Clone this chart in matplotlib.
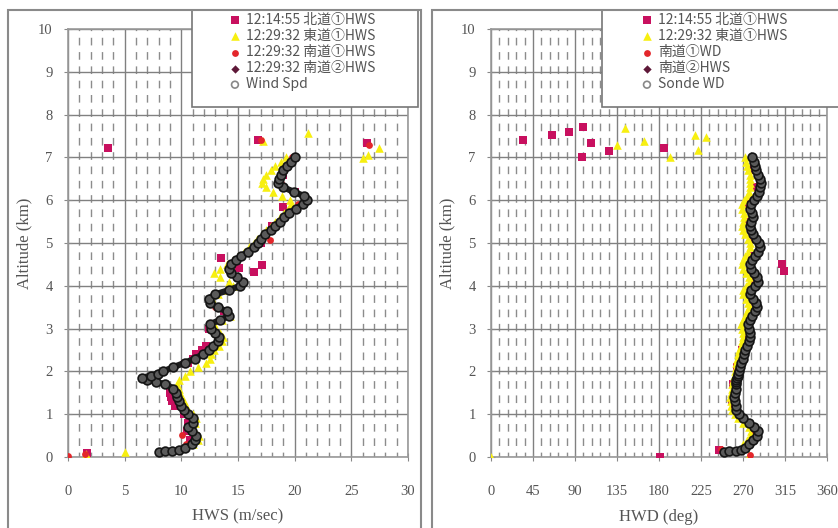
import matplotlib.pyplot as plt
from matplotlib.patches import Rectangle
from matplotlib.ticker import MultipleLocator
import numpy as np

# ---- datos: sonda (altitud km) ----
sonde_alt = [0.12, 0.13, 0.14, 0.16, 0.2, 0.3, 0.4, 0.5, 0.6, 0.7, 0.8, 0.9, 1.0, 1.1, 1.2, 1.3,
             1.4, 1.5, 1.6, 1.7, 1.75, 1.8, 1.85, 1.9, 1.95, 2.0, 2.1, 2.2, 2.3, 2.4, 2.5, 2.6,
             2.7, 2.8, 2.9, 3.0, 3.1, 3.2, 3.3, 3.4, 3.5, 3.6, 3.7, 3.8, 3.9, 4.0, 4.1, 4.2,
             4.3, 4.4, 4.5, 4.6, 4.7, 4.8, 4.9, 5.0, 5.1, 5.2, 5.3, 5.4, 5.5, 5.6, 5.7, 5.8,
             5.9, 6.0, 6.1, 6.2, 6.3, 6.4, 6.5, 6.6, 6.7, 6.8, 6.9, 7.0]
sonde_ws = [8.0, 8.6, 9.2, 9.8, 10.3, 10.9, 11.2, 11.3, 10.9, 10.6, 11.0, 11.0, 10.6, 10.2, 10.0, 9.8,
            9.6, 9.5, 9.3, 8.6, 7.8, 7.0, 6.5, 7.3, 7.9, 8.4, 9.3, 10.3, 11.2, 11.9, 12.4, 12.8,
            13.2, 13.3, 13.0, 12.6, 12.5, 13.4, 14.2, 14.0, 13.2, 12.5, 12.4, 13.0, 14.2, 15.2, 15.4, 14.9,
            14.4, 14.2, 14.4, 14.8, 15.3, 15.9, 16.4, 16.8, 17.0, 17.4, 17.9, 18.3, 18.7, 19.1, 19.5, 20.1,
            20.7, 21.1, 20.8, 19.9, 19.0, 18.5, 18.6, 18.8, 19.0, 19.3, 19.7, 20.0]
sonde_wd = [250, 255, 262, 268, 272, 276, 281, 285, 286, 282, 276, 270, 266, 263, 262, 261,
            260, 261, 262, 262, 263, 263, 264, 265, 265, 266, 267, 268, 270, 271, 272, 274,
            276, 277, 277, 276, 275, 277, 280, 283, 285, 284, 281, 278, 279, 283, 286, 285,
            282, 279, 278, 280, 283, 286, 288, 287, 284, 281, 279, 278, 279, 281, 280, 278,
            279, 282, 285, 287, 288, 289, 288, 286, 284, 283, 282, 280]

# ---- lidar 東道① (amarillo) ----
east_alt = [0.3, 0.4, 0.5, 0.6, 0.7, 0.8, 0.9, 1.0, 1.1, 1.2, 1.3, 1.4, 1.5, 1.6, 1.7, 1.8, 1.9,
            2.0, 2.1, 2.2, 2.3, 2.4, 2.5, 2.6, 2.7, 2.8, 2.9, 3.0, 3.1, 3.2, 3.3, 3.4, 3.5, 3.6,
            3.7, 3.8, 3.9, 4.0, 4.1, 4.2, 4.3, 4.4, 4.5, 4.6, 4.7, 4.8, 4.9, 5.0, 5.1, 5.2, 5.3,
            5.4, 5.5, 5.6, 5.7, 5.8, 5.9, 6.0, 6.1, 6.2, 6.3, 6.4, 6.5, 6.6, 6.7, 6.8, 6.9, 7.0]
east_ws = [11.0, 11.5, 11.6, 11.2, 10.9, 11.2, 11.3, 11.0, 10.6, 10.4, 10.2, 10.0, 9.9, 9.8, 9.6, 9.8, 10.3,
           10.8, 11.5, 12.2, 12.5, 12.6, 12.9, 13.3, 13.6, 13.7, 13.4, 13.0, 12.9, 13.6, 14.3, 14.1, 13.4, 12.8,
           12.7, 13.2, 14.0, 14.6, 14.2, 13.4, 12.9, 13.4, 14.0, 14.6, 15.0, 15.5, 16.0, 16.4, 16.7, 17.1, 17.5,
           17.9, 18.3, 18.7, 19.1, 19.4, 19.7, 19.6, 18.9, 18.1, 17.5, 17.1, 17.2, 17.5, 17.9, 18.3, 18.8, 19.2]
east_wd = [270, 274, 278, 279, 276, 270, 265, 261, 258, 257, 257, 256, 257, 258, 258, 259, 260,
           261, 262, 263, 264, 265, 266, 268, 269, 270, 270, 269, 268, 270, 272, 274, 276, 275,
           273, 270, 270, 273, 276, 276, 273, 270, 269, 270, 272, 275, 277, 277, 275, 272, 270,
           269, 270, 271, 271, 269, 269, 271, 274, 276, 277, 278, 278, 277, 275, 274, 273, 272]
east_out_ws = [0.0, 1.6, 5.0, 17.2, 21.2, 26.0, 27.4, 26.5]
east_out_ws_alt = [0.0, 0.08, 0.12, 7.38, 7.57, 6.98, 7.22, 7.05]
east_out_wd = [0, 276, 135, 144, 164, 192, 219, 230, 222]
east_out_wd_alt = [0.0, 0.05, 7.29, 7.69, 7.38, 7.01, 7.52, 7.48, 7.17]

# ---- lidar 北道① (magenta) ----
north_ws_alt = [0.1, 0.4, 0.6, 0.8, 1.0, 1.2, 1.3, 1.4, 1.5, 1.6, 2.2, 2.3, 2.4, 2.5, 2.6, 3.0, 3.4,
                4.33, 4.42, 4.49, 4.65, 5.0, 5.4, 5.84, 6.2, 6.6, 7.22, 7.4, 7.33]
north_ws = [1.7, 10.8, 10.5, 10.6, 10.2, 9.4, 9.2, 9.1, 9.0, 9.2, 10.6, 11.0, 11.3, 11.8, 12.2, 12.4, 13.8,
            16.4, 15.1, 17.1, 13.5, 17.0, 18.0, 19.0, 20.0, 19.0, 3.5, 16.8, 26.4]
north_wd_alt = [0.0, 0.16, 0.5, 0.9, 1.3, 1.7, 2.1, 2.5, 2.9, 3.3, 3.7, 4.1, 4.35, 4.5, 4.7, 5.1, 5.5,
                5.9, 6.3, 6.7, 7.0, 7.15, 7.22, 7.33, 7.41, 7.52, 7.59, 7.71]
north_wd = [181, 244, 281, 267, 258, 259, 264, 269, 274, 277, 278, 283, 314, 312, 280, 281, 276,
            276, 285, 281, 97, 126, 185, 107, 34, 65, 84, 99]

# ---- lidar 南道① (rojo) ----
south1_ws_alt = [0.02, 0.08, 0.3, 0.51, 0.7, 1.5, 2.5, 3.5, 4.5, 5.07, 5.3, 5.9, 6.4, 7.0, 7.4, 7.3]
south1_ws = [0.0, 1.5, 10.4, 10.1, 10.5, 9.5, 12.3, 13.0, 14.6, 17.8, 18.0, 20.3, 18.8, 19.8, 17.0, 26.6]
south1_wd_alt = [0.05, 0.18, 0.6, 1.2, 2.0, 2.8, 3.6, 4.4, 5.2, 6.0, 6.8]
south1_wd = [278, 246, 283, 260, 264, 275, 282, 277, 280, 280, 281]

# ---- lidar 南道② (morado) ----
south2_alt = [0.2, 0.4, 0.6, 0.8, 1.0, 1.2, 1.4, 1.6, 1.8, 2.0, 2.2, 2.4, 2.6, 2.8, 3.0, 3.2, 3.4,
              3.6, 3.8, 4.0, 4.2, 4.4, 4.6, 4.8, 5.0, 5.2, 5.4, 5.6, 5.8, 6.0, 6.2, 6.4, 6.6, 6.8, 7.0]
south2_ws = [10.1, 11.0, 10.8, 10.9, 10.5, 9.9, 9.5, 9.2, 7.2, 8.5, 10.1, 11.8, 12.7, 13.2, 12.7, 13.3, 13.9,
             12.6, 13.1, 15.0, 14.8, 14.3, 14.9, 15.8, 16.7, 17.3, 18.2, 19.0, 19.9, 20.9, 19.8, 18.6, 18.9, 19.2, 19.9]
south2_wd = [271, 280, 285, 276, 266, 262, 261, 262, 264, 266, 268, 271, 274, 277, 276, 277, 283,
             284, 278, 283, 285, 279, 280, 286, 287, 281, 278, 281, 278, 282, 287, 289, 286, 283, 280]

# etiquetas
labels_ws = ['12:14:55 北道①HWS', '12:29:32 東道①HWS', '12:29:32 南道①HWS', '12:29:32 南道②HWS', 'Wind Spd']
labels_wd = ['12:14:55 北道①HWS', '12:29:32 東道①HWS', '南道①WD', '南道②HWS', 'Sonde WD']

C_NORTH = '#c8105f'
C_EAST = '#f7ef10'
C_SOUTH1 = '#e3262b'
C_SOUTH2 = '#5e1838'

W, H = 838, 528
fig = plt.figure(figsize=(W / 100, H / 100), dpi=100)


def fx(p):
    return p / W


def fy(p):
    return 1 - p / H


# marcos de cada gráfico
for x0, x1 in [(8, 421), (432, 860)]:
    fig.patches.append(Rectangle((fx(x0), fy(540)), fx(x1 - x0), fy(10) - fy(540),
                                 transform=fig.transFigure, fill=False,
                                 edgecolor='#8a8a8a', linewidth=1.5))

ax1 = fig.add_axes([fx(68), fy(457), fx(340), fy(29) - fy(457)])
ax2 = fig.add_axes([fx(491), fy(457), fx(336), fy(29) - fy(457)])

serif = 'Liberation Serif'
cjk = ['Noto Sans CJK JP', 'DejaVu Sans']


def style(ax, xmax, major, minor, xlabel):
    ax.set_xlim(0, xmax)
    ax.set_ylim(0, 10)
    ax.set_xticks(np.arange(0, xmax + 1, major))
    ax.set_yticks(np.arange(0, 11, 1))
    ax.xaxis.set_minor_locator(MultipleLocator(minor))
    ax.set_axisbelow(True)
    ax.grid(which='major', color='#808080', linewidth=1.0)
    ax.grid(which='minor', axis='x', color='#8c8c8c', linewidth=1.0, linestyle=(2, (5.5, 4.8)))
    ax.tick_params(which='minor', length=0)
    ax.tick_params(which='major', direction='inout', length=6, color='#888888',
                   labelcolor='#555555', labelsize=10.5)
    ax.tick_params(axis='x', pad=17)
    ax.tick_params(axis='y', pad=8)
    for lab in ax.get_xticklabels() + ax.get_yticklabels():
        lab.set_fontfamily(serif)
    for s in ax.spines.values():
        s.set_color('#999999')
        s.set_linewidth(1.2)
    ax.set_xlabel(xlabel, fontfamily=serif, fontsize=12, color='#555555', labelpad=8)
    ax.set_ylabel('Altitude (km)', fontfamily=serif, fontsize=12, color='#555555', labelpad=4)


def draw(ax, north, east, eout, s1, s2, sonde):
    hs = []
    hs.append(ax.scatter(north[0], north[1], marker='s', s=28, color=C_NORTH, linewidths=0, zorder=3))
    hs.append(ax.scatter(east[0] + eout[0], east[1] + eout[1], marker='^', s=38, color=C_EAST,
                         linewidths=0, zorder=4))
    hs.append(ax.scatter(s1[0], s1[1], marker='o', s=24, color=C_SOUTH1, linewidths=0, zorder=5))
    hs.append(ax.scatter(s2[0], s2[1], marker='D', s=18, color=C_SOUTH2, linewidths=0, zorder=6))
    ax.plot(sonde[0], sonde[1], color='#1e1e1e', linewidth=4.5, zorder=7, solid_capstyle='round')
    hs.append(ax.scatter(sonde[0], sonde[1], marker='o', s=40, facecolors='#5a5a5a',
                         edgecolors='#151515', linewidths=1.2, zorder=8))
    return hs


h1 = draw(ax1, (north_ws, north_ws_alt), (east_ws, east_alt), (east_out_ws, east_out_ws_alt),
          (south1_ws, south1_ws_alt), (south2_ws, south2_alt), (sonde_ws, sonde_alt))
h2 = draw(ax2, (north_wd, north_wd_alt), (east_wd, east_alt), (east_out_wd, east_out_wd_alt),
          (south1_wd, south1_wd_alt), (south2_wd, south2_alt), (sonde_wd, sonde_alt))

style(ax1, 30, 5, 1, 'HWS (m/sec)')
style(ax2, 360, 45, 9, 'HWD (deg)')

# leyendas con caja propia
for ax, hs, labs, bx0, bx1, lx in [(ax1, h1, labels_ws, 192, 418, 228), (ax2, h2, labels_wd, 602, 860, 640)]:
    box = Rectangle((fx(bx0), fy(107)), fx(bx1 - bx0), fy(10) - fy(107), transform=fig.transFigure,
                    facecolor='white', edgecolor='#777777', linewidth=1.2, clip_on=False, zorder=20)
    ax.add_patch(box)
    leg = ax.legend(hs, labs, loc='upper left', bbox_to_anchor=(fx(lx), fy(13)),
                    bbox_transform=fig.transFigure, frameon=False, borderpad=0, borderaxespad=0,
                    handlelength=1.0, handletextpad=0.3, labelspacing=0.15,
                    prop={'family': cjk, 'size': 10}, labelcolor='#555555')
    leg.set_zorder(21)
    # sonda en la leyenda: círculo gris abierto
    lh = leg.legend_handles[4]
    lh.set_facecolor('none')
    lh.set_edgecolor('#888888')
    lh.set_sizes([24])

fig.savefig('out.png', dpi=100)
